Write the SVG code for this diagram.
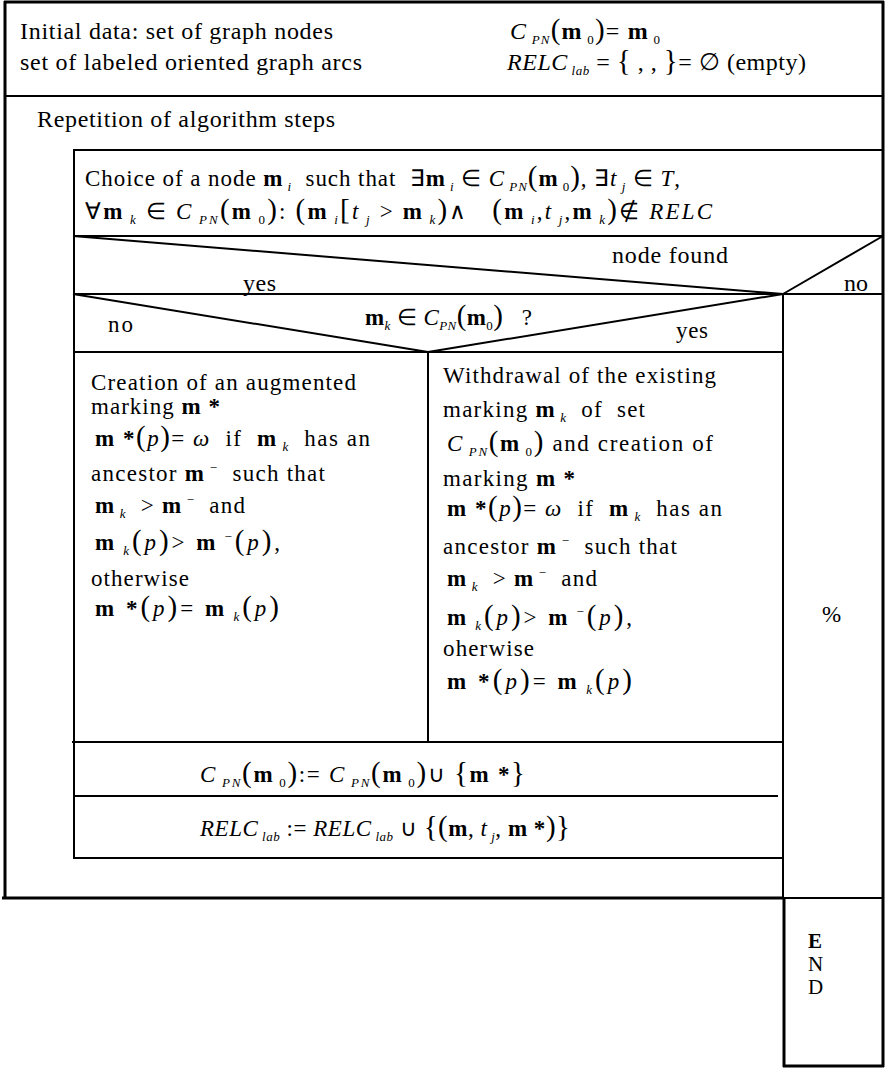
<svg xmlns="http://www.w3.org/2000/svg" width="885" height="1068" viewBox="0 0 885 1068">
<style>
text{font-family:'Liberation Serif','Times New Roman',serif;font-size:23px;fill:#000;white-space:pre}
.i{font-style:italic}
.b{font-weight:bold}
.s{font-size:13px}
.p{font-size:29px}
.ln{stroke:#000;stroke-width:2;fill:none}
.tk{stroke:#000;stroke-width:3;fill:none}
.big{font-size:24px}
.mid{font-size:23px}
</style>
<rect width="885" height="1068" fill="#fff"/>
<g id="connectors">
  <line class="tk" x1="4" y1="2" x2="884" y2="2"/>
  <line class="tk" x1="5" y1="1" x2="5" y2="898"/>
  <line class="tk" x1="883" y1="1" x2="883" y2="1067"/>
  <line class="ln" x1="5" y1="96" x2="883" y2="96"/>
  <line class="tk" x1="2" y1="898" x2="784" y2="898"/>
  <line class="ln" x1="783" y1="898" x2="883" y2="898"/>
  <line class="tk" x1="784" y1="897" x2="784" y2="1067"/>
  <line class="tk" x1="783" y1="1066" x2="884" y2="1066"/>
  <line class="ln" x1="73" y1="150" x2="883" y2="150"/>
  <line class="ln" x1="74" y1="150" x2="74" y2="858"/>
  <line class="ln" x1="73" y1="236" x2="883" y2="236"/>
  <line class="ln" x1="73" y1="236" x2="783" y2="294"/>
  <line class="ln" x1="783" y1="294" x2="883" y2="236"/>
  <line class="ln" x1="73" y1="294" x2="883" y2="294"/>
  <line class="ln" x1="73" y1="294" x2="428" y2="352"/>
  <line class="ln" x1="428" y1="352" x2="783" y2="294"/>
  <line class="ln" x1="73" y1="352" x2="783" y2="352"/>
  <line class="ln" x1="428" y1="352" x2="428" y2="742"/>
  <line class="ln" x1="783" y1="294" x2="783" y2="898"/>
  <line class="ln" x1="72" y1="742" x2="783" y2="742"/>
  <line class="ln" x1="73" y1="796" x2="778" y2="796"/>
  <line class="ln" x1="73" y1="858" x2="783" y2="858"/>
</g>
<g id="initial">
  <text class="big" x="20" y="39" textLength="313">Initial data: set of graph nodes</text>
  <text class="big" x="20" y="70" textLength="342">set of labeled oriented graph arcs</text>
  <text class="big" x="510" y="39" textLength="150"><tspan class="i">C</tspan><tspan class="s i" dy="5"> PN</tspan><tspan class="p" dy="-5">(</tspan><tspan class="b">m</tspan><tspan class="s" dy="5"> 0</tspan><tspan class="p" dy="-5">)</tspan>= <tspan class="b">m</tspan><tspan class="s" dy="5"> 0</tspan></text>
  <text class="big" x="507" y="70" textLength="299"><tspan class="i">RELC</tspan><tspan class="s i" dy="5"> lab</tspan><tspan dy="-5"> = </tspan><tspan class="p">{</tspan> , , <tspan class="p">}</tspan>= ∅ (empty)</text>
</g>
<g id="repetition">
  <text class="big" x="37" y="127" textLength="298">Repetition of algorithm steps</text>
</g>
<g id="choice">
  <text class="mid" x="85" y="186" textLength="595">Choice of a node <tspan class="b">m</tspan><tspan class="s i" dy="5"> i</tspan><tspan dy="-5">  such that  ∃</tspan><tspan class="b">m</tspan><tspan class="s i" dy="5"> i</tspan><tspan dy="-5"> ∈ </tspan><tspan class="i">C</tspan><tspan class="s i" dy="5"> PN</tspan><tspan class="p" dy="-5">(</tspan><tspan class="b">m</tspan><tspan class="s" dy="5"> 0</tspan><tspan class="p" dy="-5">)</tspan>, ∃<tspan class="i">t</tspan><tspan class="s i" dy="5"> j</tspan><tspan dy="-5"> ∈ </tspan><tspan class="i">T</tspan>,</text>
  <text class="mid" x="85" y="219" textLength="627">∀<tspan class="b">m</tspan><tspan class="s i" dy="5"> k</tspan><tspan dy="-5"> ∈ </tspan><tspan class="i">C</tspan><tspan class="s i" dy="5"> PN</tspan><tspan class="p" dy="-5">(</tspan><tspan class="b">m</tspan><tspan class="s" dy="5"> 0</tspan><tspan class="p" dy="-5">)</tspan>: <tspan class="p">(</tspan><tspan class="b">m</tspan><tspan class="s i" dy="5"> i</tspan><tspan class="p" dy="-5">[</tspan><tspan class="i">t</tspan><tspan class="s i" dy="5"> j</tspan><tspan dy="-5"> &gt; </tspan><tspan class="b">m</tspan><tspan class="s i" dy="5"> k</tspan><tspan class="p" dy="-5">)</tspan>∧   <tspan class="p">(</tspan><tspan class="b">m</tspan><tspan class="s i" dy="5"> i</tspan><tspan dy="-5">,</tspan><tspan class="i">t</tspan><tspan class="s i" dy="5"> j</tspan><tspan dy="-5">,</tspan><tspan class="b">m</tspan><tspan class="s i" dy="5"> k</tspan><tspan class="p" dy="-5">)</tspan>∉ <tspan class="i">RELC</tspan></text>
</g>
<g id="decision1">
  <text class="big" x="612" y="263" textLength="116">node found</text>
  <text class="big" x="243" y="291" textLength="33">yes</text>
  <text class="big" x="844" y="291">no</text>
</g>
<g id="decision2">
  <text x="108" y="332" textLength="25">no</text>
  <text x="365" y="325" textLength="167"><tspan class="b">m</tspan><tspan class="s i" dy="5">k</tspan><tspan dy="-5"> ∈ </tspan><tspan class="i">C</tspan><tspan class="s i" dy="5">PN</tspan><tspan class="p" dy="-5">(</tspan><tspan class="b">m</tspan><tspan class="s" dy="5">0</tspan><tspan class="p" dy="-5">)</tspan>   ?</text>
  <text x="676" y="338" textLength="32">yes</text>
</g>
<g id="augmented">
  <text x="91" y="390" textLength="265">Creation of an augmented</text>
  <text x="91" y="414" textLength="129">marking <tspan class="b">m *</tspan></text>
  <text x="95" y="446" textLength="275"><tspan class="b">m *</tspan><tspan class="p">(</tspan><tspan class="i">p</tspan><tspan class="p">)</tspan>= <tspan class="i">ω</tspan>  if  <tspan class="b">m</tspan><tspan class="s i" dy="5"> k</tspan><tspan dy="-5">  has an</tspan></text>
  <text x="91" y="481" textLength="234">ancestor <tspan class="b">m</tspan><tspan class="s" dy="-9"> −</tspan><tspan dy="9">  such that</tspan></text>
  <text x="95" y="513" textLength="150"><tspan class="b">m</tspan><tspan class="s i" dy="5"> k</tspan><tspan dy="-5">  &gt; </tspan><tspan class="b">m</tspan><tspan class="s" dy="-9"> −</tspan><tspan dy="9">  and</tspan></text>
  <text x="95" y="550" textLength="185"><tspan class="b">m</tspan><tspan class="s i" dy="5"> k</tspan><tspan class="p" dy="-5">(</tspan><tspan class="i">p</tspan><tspan class="p">)</tspan>&gt; <tspan class="b">m</tspan><tspan class="s" dy="-9"> −</tspan><tspan class="p" dy="9">(</tspan><tspan class="i">p</tspan><tspan class="p">)</tspan>,</text>
  <text x="91" y="586" textLength="98">otherwise</text>
  <text x="95" y="616" textLength="184"><tspan class="b">m *</tspan><tspan class="p">(</tspan><tspan class="i">p</tspan><tspan class="p">)</tspan>= <tspan class="b">m</tspan><tspan class="s i" dy="5"> k</tspan><tspan class="p" dy="-5">(</tspan><tspan class="i">p</tspan><tspan class="p">)</tspan></text>
</g>
<g id="withdrawal">
  <text x="443" y="383" textLength="273">Withdrawal of the existing</text>
  <text x="443" y="417" textLength="202">marking <tspan class="b">m</tspan><tspan class="s i" dy="5"> k</tspan><tspan dy="-5">  of  set</tspan></text>
  <text x="447" y="451" textLength="266"><tspan class="i">C</tspan><tspan class="s i" dy="5"> PN</tspan><tspan class="p" dy="-5">(</tspan><tspan class="b">m</tspan><tspan class="s" dy="5"> 0</tspan><tspan class="p" dy="-5">)</tspan> and creation of</text>
  <text x="443" y="486" textLength="132">marking <tspan class="b">m *</tspan></text>
  <text x="447" y="516" textLength="275"><tspan class="b">m *</tspan><tspan class="p">(</tspan><tspan class="i">p</tspan><tspan class="p">)</tspan>= <tspan class="i">ω</tspan>  if  <tspan class="b">m</tspan><tspan class="s i" dy="5"> k</tspan><tspan dy="-5">  has an</tspan></text>
  <text x="443" y="554" textLength="234">ancestor <tspan class="b">m</tspan><tspan class="s" dy="-9"> −</tspan><tspan dy="9">  such that</tspan></text>
  <text x="447" y="586" textLength="150"><tspan class="b">m</tspan><tspan class="s i" dy="5"> k</tspan><tspan dy="-5">  &gt; </tspan><tspan class="b">m</tspan><tspan class="s" dy="-9"> −</tspan><tspan dy="9">  and</tspan></text>
  <text x="447" y="625" textLength="185"><tspan class="b">m</tspan><tspan class="s i" dy="5"> k</tspan><tspan class="p" dy="-5">(</tspan><tspan class="i">p</tspan><tspan class="p">)</tspan>&gt; <tspan class="b">m</tspan><tspan class="s" dy="-9"> −</tspan><tspan class="p" dy="9">(</tspan><tspan class="i">p</tspan><tspan class="p">)</tspan>,</text>
  <text x="443" y="656" textLength="91">oherwise</text>
  <text x="447" y="689" textLength="185"><tspan class="b">m *</tspan><tspan class="p">(</tspan><tspan class="i">p</tspan><tspan class="p">)</tspan>= <tspan class="b">m</tspan><tspan class="s i" dy="5"> k</tspan><tspan class="p" dy="-5">(</tspan><tspan class="i">p</tspan><tspan class="p">)</tspan></text>
</g>
<g id="nofound">
  <text x="822" y="622">%</text>
</g>
<g id="update-set">
  <text class="mid" x="200" y="782" textLength="325"><tspan class="i">C</tspan><tspan class="s i" dy="5"> PN</tspan><tspan class="p" dy="-5">(</tspan><tspan class="b">m</tspan><tspan class="s" dy="5"> 0</tspan><tspan class="p" dy="-5">)</tspan>:= <tspan class="i">C</tspan><tspan class="s i" dy="5"> PN</tspan><tspan class="p" dy="-5">(</tspan><tspan class="b">m</tspan><tspan class="s" dy="5"> 0</tspan><tspan class="p" dy="-5">)</tspan>∪ <tspan class="p">{</tspan><tspan class="b">m *</tspan><tspan class="p">}</tspan></text>
</g>
<g id="update-relc">
  <text class="mid" x="200" y="836" textLength="370"><tspan class="i">RELC</tspan><tspan class="s i" dy="5"> lab</tspan><tspan dy="-5"> := </tspan><tspan class="i">RELC</tspan><tspan class="s i" dy="5"> lab</tspan><tspan dy="-5"> ∪ </tspan><tspan class="p">{(</tspan><tspan class="b">m</tspan>, <tspan class="i">t</tspan><tspan class="s i" dy="5"> j</tspan><tspan dy="-5">, </tspan><tspan class="b">m *</tspan><tspan class="p">)}</tspan></text>
</g>
<g id="end">
  <text x="808" y="948" class="b" style="font-size:21px">E</text>
  <text x="808" y="971" style="font-size:21px">N</text>
  <text x="808" y="994" style="font-size:21px">D</text>
</g>
</svg>
